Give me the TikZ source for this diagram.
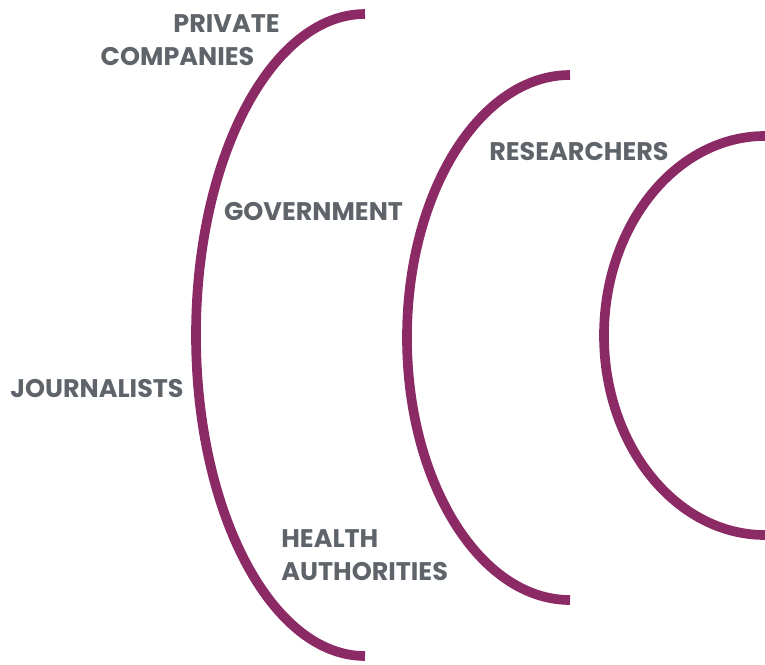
\documentclass[tikz,border=0pt]{standalone}
\usepackage{fontspec}
\setmainfont{Poppins}
\definecolor{arcpurple}{HTML}{8C2A66}
\definecolor{labelgray}{HTML}{5E646A}
\tikzset{
	arcline/.style={draw=arcpurple, line width=5.5pt, line cap=butt},
	lbl/.style={text=labelgray, font=\fontsize{14.5}{17}\selectfont\bfseries, inner sep=0pt}
}
\begin{document}
\begin{tikzpicture}[x=0.02cm, y=-0.02cm, line join=round]
	\useasboundingbox (0,0) rectangle (765,664);
	% three half ellipses, from the bottom end round the left to the top end
	\foreach \cx/\cy/\rx/\ry in {365/335/169/321, 570/337.5/163/262.5, 765/335.5/161/199.5}{
		\draw[arcline] (\cx,\cy+\ry) arc[start angle=90, end angle=270, x radius=\rx, y radius=\ry];}
	% labels
	\node[lbl] (private) at (226.5, 23.5) {PRIVATE};
	\node[lbl] (companies) at (177.5, 56.5) {COMPANIES};
	\node[lbl] (government) at (313.5, 211.5) {GOVERNMENT};
	\node[lbl] (researchers) at (579, 152) {RESEARCHERS};
	\node[lbl] (journalists) at (97, 389) {JOURNALISTS};
	\node[lbl, anchor=west] (health) at (281, 538.5) {HEALTH};
	\node[lbl, anchor=west] (authorities) at (281, 571.5) {AUTHORITIES};
\end{tikzpicture}
\end{document}
